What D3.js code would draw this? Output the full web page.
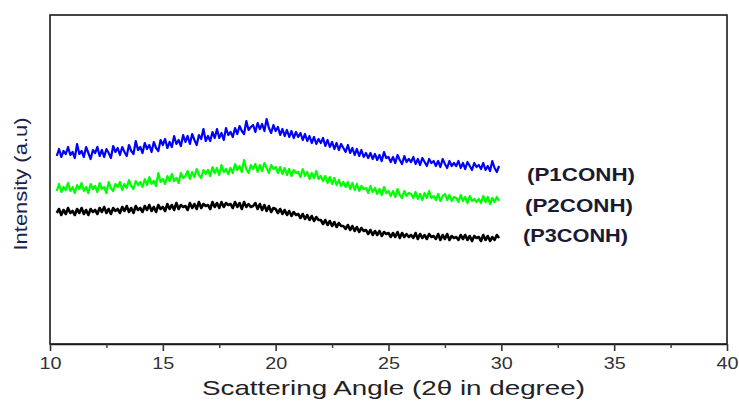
<!DOCTYPE html>
<html>
<head>
<meta charset="utf-8">
<script src="https://cdn.jsdelivr.net/npm/d3@7"></script>
<style>
  body { margin: 0; background: #fff; }
  text { font-family: "Liberation Sans", Arial, sans-serif; }
</style>
</head>
<body>
<div id="chart"></div>
<script>
// scan grid (degrees 2theta)
const angleStart = 10.3, angleStep = 0.1;

// intensities (a.u.), one row per degree
const p1 = [
  188, 195, 187, 193, 190, 197, 189,
  192, 186, 200, 190, 193, 187, 197, 191, 185, 194,
  191, 197, 188, 194, 187, 195, 191, 186, 198, 192,
  196, 189, 197, 192, 188, 199, 193, 190, 203, 194,
  197, 191, 201, 195, 199, 192, 202, 196, 193, 204,
  199, 205, 196, 202, 197, 208, 200, 204, 198, 209,
  202, 208, 200, 210, 204, 199, 209, 205, 215, 203,
  208, 203, 212, 206, 215, 206, 211, 204, 216, 209,
  212, 207, 216, 210, 218, 213, 210, 223, 214, 217,
  219, 212, 221, 215, 220, 213, 225, 216, 211, 219,
  213, 217, 209, 215, 208, 214, 207, 213, 206, 212,
  207, 211, 204, 210, 203, 208, 201, 207, 200, 205,
  201, 206, 198, 204, 197, 202, 195, 201, 194, 200,
  196, 192, 199, 191, 196, 189, 195, 188, 194, 187,
  191, 186, 191, 185, 190, 184, 189, 183, 192, 186,
  187, 182, 187, 181, 189, 184, 180, 188, 182, 185,
  182, 187, 180, 185, 179, 186, 182, 178, 185, 181,
  183, 178, 183, 177, 185, 180, 176, 183, 178, 181,
  178, 183, 176, 181, 175, 182, 178, 174, 181, 177,
  179, 175, 181, 174, 178, 173, 183, 176, 172, 178
];

const p2 = [
  153, 160, 152, 157, 154, 161, 153,
  157, 151, 159, 155, 161, 153, 157, 151, 160, 155,
  158, 152, 161, 155, 157, 151, 162, 156, 153, 160,
  157, 162, 154, 160, 156, 164, 158, 155, 163, 159,
  162, 157, 165, 159, 167, 160, 163, 158, 171, 162,
  165, 160, 168, 163, 170, 163, 166, 161, 171, 166,
  168, 173, 165, 172, 167, 175, 169, 166, 174, 170,
  174, 168, 177, 171, 176, 169, 179, 172, 175, 170,
  176, 171, 180, 174, 178, 172, 184, 175, 171, 179,
  175, 180, 172, 179, 173, 181, 176, 171, 179, 175,
  177, 171, 177, 170, 176, 169, 175, 168, 174, 171,
  172, 167, 175, 168, 172, 165, 171, 166, 173, 165,
  168, 163, 168, 161, 167, 160, 166, 159, 164, 158,
  162, 157, 162, 155, 161, 154, 160, 153, 158, 155,
  156, 151, 158, 152, 156, 150, 155, 149, 157, 151,
  153, 148, 153, 147, 155, 149, 146, 153, 148, 151,
  150, 146, 152, 145, 150, 144, 151, 146, 153, 146,
  148, 144, 150, 143, 148, 150, 144, 149, 143, 147,
  146, 142, 149, 143, 147, 141, 148, 143, 145, 142,
  145, 141, 148, 142, 147, 140, 146, 142, 147, 143
];

const p3 = [
  131, 135, 129, 134, 130, 136, 131,
  133, 129, 135, 131, 136, 130, 134, 129, 135, 132,
  134, 130, 136, 132, 137, 131, 135, 130, 136, 133,
  135, 131, 137, 133, 138, 132, 136, 131, 138, 134,
  136, 132, 138, 134, 139, 133, 137, 132, 139, 135,
  137, 133, 140, 135, 139, 134, 141, 135, 139, 137,
  138, 134, 141, 136, 140, 135, 142, 136, 140, 138,
  139, 135, 142, 137, 141, 136, 142, 137, 141, 139,
  140, 136, 142, 137, 141, 135, 142, 137, 140, 137,
  138, 141, 135, 140, 134, 139, 133, 138, 132, 136,
  135, 131, 135, 130, 134, 129, 133, 128, 132, 129,
  130, 126, 130, 125, 129, 124, 128, 123, 127, 124,
  124, 120, 124, 119, 123, 118, 122, 117, 121, 118,
  118, 115, 119, 114, 118, 113, 117, 112, 116, 113,
  114, 110, 114, 109, 113, 109, 113, 108, 112, 110,
  111, 107, 111, 107, 112, 106, 111, 107, 110, 107,
  109, 106, 111, 105, 110, 106, 109, 105, 110, 107,
  108, 105, 110, 104, 109, 105, 110, 104, 108, 106,
  107, 104, 109, 105, 109, 104, 108, 103, 108, 106,
  107, 103, 109, 104, 108, 103, 107, 104, 109, 106
];

const seriesNames = ["(P1CONH)", "(P2CONH)", "(P3CONH)"];
const seriesColors = ["#0000ff", "#00ff00", "#000000"];
const majorTicks = [10, 15, 20, 25, 30, 35, 40];
const minorTicks = [12.5, 17.5, 22.5, 27.5, 32.5, 37.5];

const margin = { top: 15, right: 12, bottom: 58, left: 50 },
    width = 739 - margin.left - margin.right,
    height = 402 - margin.top - margin.bottom;

const svg = d3.select("#chart")
    .append("svg")
    .attr("width", width + margin.left + margin.right)
    .attr("height", height + margin.top + margin.bottom)
    .append("g")
    .attr("transform", `translate(${margin.left},${margin.top})`);

const xScale = d3.scaleLinear().domain([10, 40]).range([0, width]);
const yScale = d3.scaleLinear().domain([0, 329]).range([height, 0]);

// frame
svg.append("rect")
    .attr("x", 0).attr("y", 0)
    .attr("width", width).attr("height", height)
    .attr("fill", "none")
    .attr("stroke", "#1a1a1a")
    .attr("stroke-width", 1.6);

// bottom axis, ticks pointing out
const xAxis = svg.append("g")
    .attr("transform", `translate(0,${height})`)
    .call(d3.axisBottom(xScale).tickValues(majorTicks).tickSize(7).tickSizeOuter(0));
xAxis.select(".domain").attr("stroke", "#1a1a1a").attr("stroke-width", 1.6);
xAxis.selectAll(".tick line").attr("stroke", "#333").attr("stroke-width", 1.6);
xAxis.selectAll(".tick text")
    .attr("y", 25).attr("dy", null)
    .attr("fill", "#333")
    .style("font-size", "16px")
    .attr("textLength", 22)
    .attr("lengthAdjust", "spacingAndGlyphs");

svg.append("g")
    .attr("transform", `translate(0,${height})`)
    .call(d3.axisBottom(xScale).tickValues(minorTicks).tickSize(4).tickFormat(""))
    .call(g => g.select(".domain").remove())
    .selectAll(".tick line").attr("stroke", "#333").attr("stroke-width", 1.4);

// axis labels
svg.append("text")
    .attr("x", 152)
    .attr("y", 380)
    .attr("fill", "#222")
    .style("font-size", "21px")
    .attr("textLength", 383)
    .attr("lengthAdjust", "spacingAndGlyphs")
    .text("Scattering Angle (2\u03b8 in degree)");

svg.append("text")
    .attr("transform", "rotate(-90)")
    .attr("text-anchor", "middle")
    .attr("x", -(184 - margin.top))
    .attr("y", 27 - margin.left)
    .attr("fill", "#1c2150")
    .style("font-size", "18px")
    .attr("textLength", 133)
    .attr("lengthAdjust", "spacingAndGlyphs")
    .text("Intensity (a.u)");

// patterns
const line = d3.line()
    .x((d, i) => xScale(angleStart + i * angleStep))
    .y(d => yScale(d));

const strokeWidths = [2.2, 2.2, 2.6];
[p1, p2, p3].forEach((vals, k) => {
    svg.append("path")
        .datum(vals)
        .attr("fill", "none")
        .attr("stroke", seriesColors[k])
        .attr("stroke-width", strokeWidths[k])
        .attr("stroke-linejoin", "round")
        .attr("d", line);
});

// series labels at the right end of each trace
const labelPos = [[527, 181], [525, 212], [523, 242]];
svg.selectAll(".series-label")
    .data(seriesNames)
    .enter().append("text")
    .attr("class", "series-label")
    .attr("x", (d, i) => labelPos[i][0] - margin.left)
    .attr("y", (d, i) => labelPos[i][1] - margin.top)
    .attr("fill", "#1a1a33")
    .style("font-size", "19px")
    .style("font-weight", "bold")
    .attr("textLength", (d, i) => i === 2 ? 105 : 108)
    .attr("lengthAdjust", "spacingAndGlyphs")
    .text(d => d);
</script>
</body>
</html>
